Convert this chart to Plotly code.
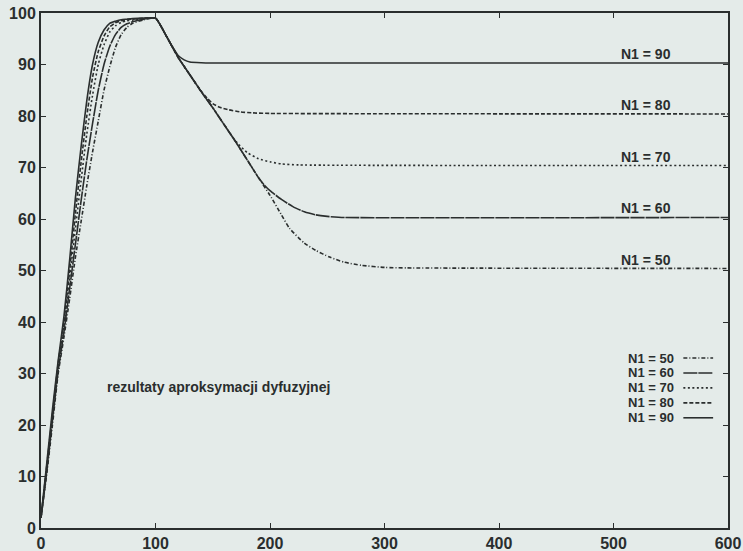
import plotly.graph_objects as go

# ---- data ----
names = ["N1 = 50", "N1 = 60", "N1 = 70", "N1 = 80", "N1 = 90"]
levels = [50, 60, 70, 80, 90]

rise_t = [0, 5, 10, 15, 20, 25, 30, 35, 40, 45, 50, 55, 60, 65, 70, 75, 80, 90, 100]
rise_50 = [2, 10.5, 20, 30, 37, 44.5, 52.5, 59.5, 66.5, 73, 79, 85, 89.5, 93.3, 95.8, 97.2, 98, 98.7, 99]
rise_60 = [2, 11, 21, 30.5, 38, 46.5, 55, 63.5, 71.5, 78.5, 85, 90, 93.5, 95.8, 97.2, 97.9, 98.3, 98.8, 99]
rise_70 = [2, 11.5, 21.5, 31.5, 39, 48.5, 58, 67.5, 76.5, 84, 90, 93.8, 96.3, 97.5, 98.2, 98.5, 98.6, 98.9, 99]
rise_80 = [2, 12, 22, 32, 40, 50, 61, 71, 80, 87.5, 92.5, 95.5, 97.3, 98.1, 98.5, 98.7, 98.8, 99, 99]
rise_90 = [2, 12.5, 23, 32.5, 41, 52, 64, 74, 83, 90, 94.3, 96.7, 98, 98.4, 98.7, 98.8, 98.9, 99, 99]

fall_t_50 = [110, 120, 130, 140, 150, 160, 170, 180, 190, 200, 210, 217, 230, 240, 252, 265, 280, 300, 320, 600]
fall_50 = [95.3, 91.3, 88, 84.7, 81.6, 78.3, 75, 71.5, 68, 64.6, 60.8, 58.2, 55.3, 53.9, 52.6, 51.6, 51, 50.6, 50.5, 50.4]

fall_t_60 = [110, 120, 130, 140, 150, 160, 170, 180, 190, 195, 200, 210, 220, 230, 240, 250, 265, 600]
fall_60 = [95.3, 91.3, 88, 84.7, 81.6, 78.3, 75, 71.5, 68, 66.6, 65.5, 63.8, 62.4, 61.4, 60.8, 60.5, 60.3, 60.3]

fall_t_70 = [110, 120, 130, 140, 150, 160, 167, 173, 180, 190, 200, 210, 225, 600]
fall_70 = [95.3, 91.3, 88, 84.7, 81.6, 78.3, 76, 74.4, 72.9, 71.7, 71.1, 70.7, 70.5, 70.4]

fall_t_80 = [110, 120, 130, 140, 145, 150, 156, 164, 174, 185, 200, 600]
fall_80 = [95.3, 91.3, 88, 84.8, 83.5, 82.4, 81.7, 81.2, 80.8, 80.6, 80.5, 80.4]

fall_t_90 = [110, 115, 120, 125, 130, 140, 150, 600]
fall_90 = [95.3, 93.4, 91.7, 90.9, 90.5, 90.35, 90.3, 90.3]

series_t = [rise_t + fall_t_50, rise_t + fall_t_60, rise_t + fall_t_70, rise_t + fall_t_80, rise_t + fall_t_90]
series_y = [rise_50 + fall_50, rise_60 + fall_60, rise_70 + fall_70, rise_80 + fall_80, rise_90 + fall_90]

x_ticks = [0, 100, 200, 300, 400, 500, 600]
y_ticks = [0, 10, 20, 30, 40, 50, 60, 70, 80, 90, 100]

caption = "rezultaty aproksymacji dyfuzyjnej"

# ---- style ----
INK = "#2a2e2e"
BG = "#e4ebe9"
FONT = "Liberation Sans"
dashes = ["4px,2px,1px,2px", "14px,1px", "2px,2.5px", "4px,2px", "solid"]

fig = go.Figure()
for name, tx, ty, d in zip(names, series_t, series_y, dashes):
    fig.add_trace(go.Scatter(x=tx, y=ty, mode="lines", name=name,
                             line=dict(color=INK, width=1.6, dash=d, shape="spline", smoothing=0.5),
                             showlegend=False))

# right-side level labels
for name, lv in zip(names, levels):
    fig.add_annotation(x=528, y=lv + 0.3, text=name, showarrow=False, xref="x", yref="y",
                       yanchor="bottom", xanchor="center", borderpad=0,
                       font=dict(family=FONT, size=14, color=INK, weight="bold"))

# gnuplot-style key (text left, sample right)
key_y = [33.0, 30.1, 27.2, 24.3, 21.4]
for name, ky, d in zip(names, key_y, dashes):
    fig.add_annotation(x=554, y=ky, text=name, showarrow=False, xref="x", yref="y",
                       xanchor="right", yanchor="middle", borderpad=0,
                       font=dict(family=FONT, size=13, color=INK, weight="bold"))
    fig.add_shape(type="line", xref="x", yref="y", x0=561, x1=587, y0=ky, y1=ky,
                  line=dict(color=INK, width=1.6, dash=d))

fig.add_annotation(x=56, y=27.4, text=caption, showarrow=False, xref="x", yref="y",
                   xanchor="left", yanchor="middle",
                   font=dict(family=FONT, size=14, color=INK, weight="bold"))

axis_common = dict(showline=True, linecolor=INK, linewidth=2, mirror="allticks",
                   ticks="inside", ticklen=5, tickcolor=INK, tickwidth=1.2,
                   showgrid=False, zeroline=False, automargin=False,
                   tickfont=dict(family=FONT, size=16, color=INK, weight="bold"))

fig.update_xaxes(range=[0, 600], tickvals=x_ticks, **axis_common)
fig.update_yaxes(range=[0, 100], tickvals=y_ticks, **axis_common)

fig.update_layout(width=743, height=551, margin=dict(l=41, r=15, t=13, b=23),
                  paper_bgcolor=BG, plot_bgcolor=BG)

fig.write_html("out.html")
